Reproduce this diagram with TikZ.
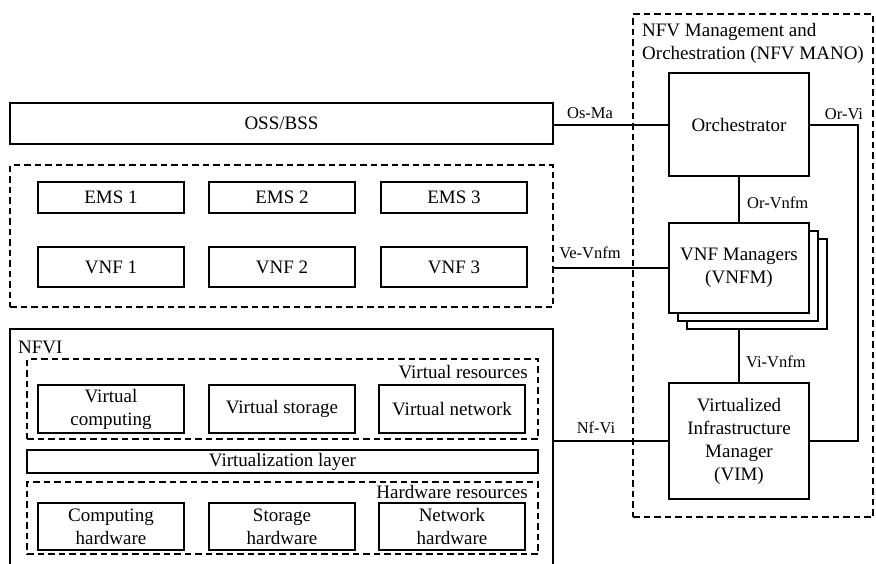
\documentclass[tikz,border=0pt]{standalone}
\usepackage{fontspec}
\setmainfont{Liberation Serif}
\tikzset{
  box/.style={draw, line width=1.2pt, fill=white, inner sep=0pt, align=center,
    font=\fontsize{19}{23}\selectfont},
  group/.style={draw, line width=2pt, dash pattern=on 6.5pt off 4pt, inner sep=0pt},
  link/.style={line width=2pt},
  lbl/.style={inner sep=0pt, font=\fontsize{16.5}{19}\selectfont},
  ttl/.style={inner sep=0pt, align=left, font=\fontsize{19}{23}\selectfont},
}
\begin{document}
\begin{tikzpicture}[x=1pt, y=-1pt]
\useasboundingbox (0,0) rectangle (876,563);

% OSS/BSS and the application layer
\node[box, minimum width=543, minimum height=41] (oss) at (281.5,123.5) {OSS/BSS};
\node[group, minimum width=543, minimum height=142] (apps) at (281.5,236) {};
\node[box, minimum width=146, minimum height=31] (ems1) at (111,197.5) {EMS 1};
\node[box, minimum width=146, minimum height=31] (ems2) at (282,197.5) {EMS 2};
\node[box, minimum width=146, minimum height=31] (ems3) at (454,197.5) {EMS 3};
\node[box, minimum width=146, minimum height=40] (vnf1) at (111,267) {VNF 1};
\node[box, minimum width=146, minimum height=40] (vnf2) at (282,267) {VNF 2};
\node[box, minimum width=146, minimum height=40] (vnf3) at (454,267) {VNF 3};

% NFVI
\node[box, minimum width=543, minimum height=236] (nfvi) at (281.5,447) {};
\node[ttl, anchor=base west] (nfvilbl) at (18,353) {NFVI};
\node[group, minimum width=511, minimum height=80] (virt) at (282.5,399) {};
\node[ttl, anchor=base east] (virtlbl) at (528,378) {Virtual resources};
\node[box, minimum width=146, minimum height=48] (vc) at (111,409) {Virtual\\computing};
\node[box, minimum width=146, minimum height=48] (vs) at (282,409) {Virtual storage};
\node[box, minimum width=146, minimum height=48] (vn) at (452,409) {Virtual network};
\node[box, minimum width=511, minimum height=23] (vlayer) at (282.5,461.5) {Virtualization layer};
\node[group, minimum width=511, minimum height=72] (hw) at (282.5,518) {};
\node[ttl, anchor=base east] (hwlbl) at (528,498) {Hardware resources};
\node[box, minimum width=146, minimum height=47] (ch) at (111,526.5) {Computing\\hardware};
\node[box, minimum width=146, minimum height=47] (sh) at (282,526.5) {Storage\\hardware};
\node[box, minimum width=146, minimum height=47] (nh) at (452,526.5) {Network\\hardware};

% NFV MANO
\node[group, minimum width=240, minimum height=503] (mano) at (753,265.5) {};
\node[ttl, anchor=north west] (manolbl) at (642,23) {NFV Management and\\Orchestration (NFV MANO)};
\node[box, minimum width=140, minimum height=103] (orch) at (739,124.5) {Orchestrator};
\node[box, minimum width=140, minimum height=90] (vnfm3) at (757,284) {};
\node[box, minimum width=140, minimum height=90] (vnfm2) at (748,276) {};
\node[box, minimum width=140, minimum height=90] (vnfm) at (739,268) {VNF Managers\\(VNFM)};
\node[box, minimum width=140, minimum height=116] (vim) at (739,441) {Virtualized\\Infrastructure\\Manager\\(VIM)};
\coordinate (orvi) at (858,124.5);

% reference points
\draw[link] (oss.east |- orch.west) -- (orch.west);
\draw[link] (vnfm.west -| apps.east) -- (vnfm.west);
\draw[link] (vim.west -| nfvi.east) -- (vim.west);
\draw[link] (orch.south) -- (vnfm.north);
\draw[link] (vnfm.south |- vnfm3.south) -- (vim.north);
\draw[link] (orch.east) -- (orvi) |- (vim.east);

\node[lbl] (osma) at (590,113) {Os-Ma};
\node[lbl] (vevnfm) at (590,253) {Ve-Vnfm};
\node[lbl] (nfvi-if) at (596,428) {Nf-Vi};
\node[lbl, anchor=west] (orvnfm) at (747,203) {Or-Vnfm};
\node[lbl, anchor=west] (vivnfm) at (746,362) {Vi-Vnfm};
\node[lbl] (orvilbl) at (844,114) {Or-Vi};
\end{tikzpicture}
\end{document}
